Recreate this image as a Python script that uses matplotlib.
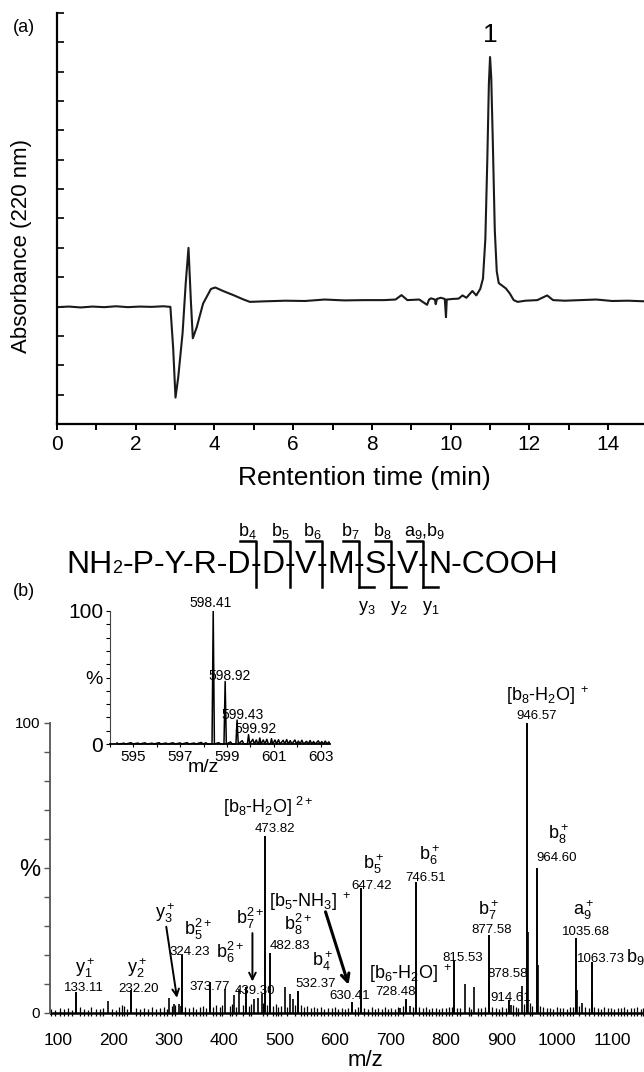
import numpy as np
import matplotlib.pyplot as plt
from matplotlib.lines import Line2D

plt.rcParams["font.family"] = ["Liberation Sans", "DejaVu Sans"]
plt.rcParams["mathtext.fontset"] = "custom"
plt.rcParams["mathtext.rm"] = "Liberation Sans"
plt.rcParams["mathtext.it"] = "Liberation Sans"
plt.rcParams["mathtext.default"] = "regular"

NARROW = ["Liberation Sans Narrow", "Liberation Sans", "DejaVu Sans"]

# ============================================================
# DATA
# ============================================================

# (a) chromatogram
rt_min = [0, 0.3, 0.6, 0.9, 1.2, 1.5, 1.8, 2.1, 2.4, 2.7, 2.88, 2.95, 3.01,
          3.08, 3.19, 3.27, 3.34, 3.40, 3.45, 3.55, 3.71, 3.91, 4.02, 4.22,
          4.48, 4.74, 4.90, 5.3, 5.8, 6.3, 6.8, 7.3, 7.8, 8.3, 8.6, 8.75,
          8.9, 9.2, 9.4, 9.45, 9.5, 9.6, 9.62, 9.65, 9.75, 9.85, 9.88, 9.9,
          10.05, 10.2, 10.3, 10.4, 10.55, 10.65, 10.75, 10.82, 10.88, 10.93,
          10.97, 11.0, 11.03, 11.07, 11.12, 11.17, 11.22, 11.3, 11.4, 11.5,
          11.6, 11.7, 11.9, 12.2, 12.45, 12.6, 12.9, 13.3, 13.7, 14.1, 14.5,
          14.91]
absorbance = [3.98, 4.0, 3.97, 4.0, 3.98, 4.01, 3.98, 4.0, 3.99, 4.01, 3.99,
              2.6, 0.9, 1.6, 3.1, 4.8, 6.0, 4.2, 2.92, 3.3, 4.1, 4.6, 4.65,
              4.53, 4.39, 4.24, 4.16, 4.18, 4.2, 4.19, 4.24, 4.21, 4.22, 4.22,
              4.24, 4.39, 4.22, 4.24, 4.06, 4.24, 4.28, 4.24, 4.08, 4.26, 4.3,
              4.26, 3.64, 4.24, 4.26, 4.27, 4.38, 4.3, 4.53, 4.38, 4.6, 4.95,
              6.3, 9.0, 11.6, 12.5, 11.8, 9.6, 6.6, 5.2, 4.8, 4.72, 4.62, 4.45,
              4.22, 4.16, 4.2, 4.22, 4.38, 4.22, 4.2, 4.22, 4.24, 4.19, 4.2,
              4.18]

# (b) MS/MS spectrum: main fragment peaks (m/z, relative %)
peak_mz = [133.11, 232.20, 324.23, 373.77, 439.30, 473.82, 482.83, 532.37,
           630.41, 647.42, 728.48, 746.51, 815.53, 877.58, 878.58, 914.61,
           946.57, 964.60, 1035.68, 1063.73]
peak_int = [7.3, 7.9, 20.0, 10.8, 8.8, 61.0, 20.6, 7.6, 3.7, 43.0, 4.8, 45.0,
            17.8, 26.8, 11.0, 4.5, 100.0, 50.0, 26.0, 17.5]

# smaller unlabelled peaks
minor_mz = [190, 301, 310, 319, 322, 402, 418, 427.5, 453, 460.6, 468, 509,
            518, 524, 718, 735, 834, 851, 918, 937, 947.57, 965.6, 1036.7,
            1046, 1064.7]
minor_int = [4.3, 5.2, 3.0, 3.2, 2.5, 8.4, 6.2, 8.2, 4.7, 5.3, 6.5, 8.8, 6.7,
             4.7, 1.8, 2.4, 9.9, 9.0, 2.6, 9.3, 28.0, 16.5, 8.0, 3.5, 6.5]

# baseline grass
grass_mz = [88, 95, 103, 110, 118, 125, 140, 147, 155, 160, 168, 175, 182,
            197, 204, 210, 215, 219, 225, 240, 248, 255, 262, 270, 277, 284,
            291, 296, 306, 312, 330, 336, 343, 350, 356, 362, 368, 380, 386,
            392, 396, 410, 414, 422, 434, 444, 449, 470, 478, 488, 493, 498,
            503, 514, 528, 538, 544, 550, 556, 562, 568, 575, 581, 588, 594,
            600, 606, 612, 618, 624, 636, 642, 653, 660, 666, 672, 678, 684,
            690, 696, 702, 708, 714, 722, 740, 752, 758, 764, 770, 776, 782,
            788, 794, 800, 806, 812, 820, 826, 842, 846, 858, 864, 870, 884,
            890, 896, 902, 908, 922, 926, 930, 942, 952, 956, 970, 976, 982,
            988, 994, 1000, 1006, 1012, 1018, 1024, 1030, 1040, 1052, 1058,
            1068, 1074, 1080, 1086, 1092, 1098, 1104, 1110, 1116, 1122, 1128,
            1134, 1140, 1146, 1152, 1156]
grass_int = [1.5, 1.0, 1.8, 1.2, 1.6, 1.1, 2.0, 1.3, 1.0, 2.2, 1.4, 1.2, 1.6,
             1.5, 1.1, 1.9, 2.6, 2.4, 1.3, 1.8, 1.2, 1.7, 1.4, 1.9, 1.2, 1.6,
             2.0, 1.5, 2.5, 2.8, 2.2, 1.7, 1.9, 1.5, 2.0, 2.4, 1.8, 2.0, 2.6,
             1.9, 2.8, 2.5, 3.0, 2.2, 2.7, 2.4, 3.2, 3.5, 2.8, 2.5, 3.0, 2.2,
             2.4, 2.0, 2.8, 2.6, 2.0, 2.4, 1.8, 2.1, 1.6, 2.0, 1.5, 1.8, 1.6,
             2.2, 1.4, 1.7, 1.5, 1.8, 1.5, 2.0, 1.8, 1.5, 2.0, 1.4, 1.7, 1.5,
             1.9, 1.4, 1.8, 1.5, 2.1, 2.5, 2.0, 2.2, 1.6, 1.9, 1.5, 1.7, 1.6,
             1.4, 1.8, 1.6, 1.9, 2.0, 1.8, 1.6, 2.0, 1.5, 1.8, 1.6, 2.0, 2.2,
             1.7, 1.5, 1.9, 1.6, 2.6, 2.0, 1.8, 3.0, 3.5, 2.5, 2.5, 2.0, 1.6,
             1.8, 1.5, 1.9, 1.6, 1.8, 1.5, 1.9, 2.2, 2.5, 2.0, 1.6, 2.2, 1.8,
             1.5, 1.9, 1.6, 1.7, 1.5, 1.8, 1.6, 1.9, 1.5, 1.8, 1.6, 1.9, 1.5,
             1.7]

# inset: precursor isotope cluster
iso_mz = [598.41, 598.92, 599.43, 599.92, 600.40, 600.90]
iso_int = [100.0, 47.0, 18.0, 7.0, 4.5, 4.0]
iso_grass_mz = [594.3, 594.6, 594.9, 595.2, 595.5, 595.8, 596.1, 596.4,
                596.7, 597.0, 597.3, 597.6, 597.9, 598.1, 598.65, 599.15,
                599.65, 600.1, 600.25, 600.55, 600.7, 601.05, 601.2, 601.4,
                601.55, 601.7, 601.9, 602.05, 602.2, 602.4, 602.55, 602.7,
                602.9, 603.05, 603.2, 603.35]
iso_grass_int = [0.8, 0.6, 1.0, 0.7, 0.9, 0.6, 1.0, 0.7, 0.9, 0.8, 1.0, 0.7,
                 1.2, 0.9, 1.0, 1.5, 2.5, 3.5, 3.0, 3.0, 3.5, 3.0, 3.2, 2.8,
                 3.3, 2.5, 3.0, 2.2, 2.8, 2.0, 2.6, 1.8, 2.4, 1.8, 2.2, 1.6]

# peptide sequence and fragment marks
seq_tokens = ["NH", "2", "-P-Y-R-D", "-", "D", "-", "V", "-", "M", "-", "S",
              "-", "V", "-", "N-COOH"]
b_ions = ["b$_4$", "b$_5$", "b$_6$", "b$_7$", "b$_8$", "a$_9$,b$_9$"]
y_ions = [None, None, None, "y$_3$", "y$_2$", "y$_1$"]

# ============================================================
# FIGURE
# ============================================================

W, H = 644, 1072
fig = plt.figure(figsize=(W / 100, H / 100), dpi=100)


def fx(x):
    return x / W


def fy(y):
    return 1 - y / H


def box(left, top, right, bottom):
    return [fx(left), fy(bottom), (right - left) / W, (bottom - top) / H]


# ------------------------------------------------------------
# (a) chromatogram
# ------------------------------------------------------------
ax_a = fig.add_axes(box(57, 13, 644, 424))
ax_a.plot(rt_min, absorbance, color="#1a1a1a", lw=1.5)
ax_a.set_xlim(0, 14.91)
ax_a.set_ylim(0, 14)
for s in ["top", "right"]:
    ax_a.spines[s].set_visible(False)
for s in ["left", "bottom"]:
    ax_a.spines[s].set_linewidth(1.6)
ax_a.set_xticks(range(0, 15, 2))
ax_a.set_xticks(range(1, 15, 2), minor=True)
ax_a.set_yticks(range(0, 15))
ax_a.set_yticklabels([])
ax_a.tick_params(axis="x", which="both", direction="out", length=4, width=1.4,
                 pad=4)
ax_a.tick_params(axis="y", direction="in", length=5, width=1.2)
for lab in ax_a.get_xticklabels():
    lab.set_family(NARROW)
    lab.set_fontsize(15)
ax_a.text(11.0, 13.25, "1", ha="center", va="center", fontsize=19,
          family=NARROW)

fig.text(fx(24), fy(28), "(a)", ha="center", va="center", fontsize=13)
fig.text(fx(22), fy(246), "Absorbance (220 nm)", rotation=90, ha="center",
         va="center", fontsize=16)
fig.text(fx(364), fy(478), "Rentention time (min)", ha="center",
         va="center", fontsize=19)

# ------------------------------------------------------------
# peptide sequence with fragment brackets
# ------------------------------------------------------------
renderer = fig.canvas.get_renderer()
x_cur = 66
cut_x = []
for tok in seq_tokens:
    size = 13 if tok == "2" else 23
    t = fig.text(fx(x_cur), fy(573), tok, ha="left", va="baseline",
                 fontsize=size)
    w = t.get_window_extent(renderer).width
    if tok == "-":
        cut_x.append(x_cur + w / 2)
    x_cur += w

for i, xc in enumerate(cut_x):
    fig.add_artist(Line2D([fx(xc - 16), fx(xc), fx(xc)],
                          [fy(541), fy(541), fy(587)],
                          transform=fig.transFigure, color="k", lw=1.8))
    dx = 2 if i == len(cut_x) - 1 else -9
    fig.text(fx(xc + dx), fy(531), b_ions[i], ha="center", va="center",
             fontsize=13)
    if y_ions[i] is not None:
        fig.add_artist(Line2D([fx(xc), fx(xc + 15)], [fy(587), fy(587)],
                              transform=fig.transFigure, color="k", lw=1.8))
        fig.text(fx(xc + 8), fy(608), y_ions[i], ha="center", va="center",
                 fontsize=13)

fig.text(fx(24), fy(592), "(b)", ha="center", va="center", fontsize=13)

# ------------------------------------------------------------
# (b) MS/MS spectrum
# ------------------------------------------------------------
ax_b = fig.add_axes(box(50, 723, 644, 1013 + 3 * 2.89))
ax_b.set_xlim(85.6, 1157.8)
ax_b.set_ylim(-3, 100)
ax_b.axhline(0, color="k", lw=1.8)
ax_b.vlines(grass_mz, [-1.0] * len(grass_mz), grass_int, color="k", lw=0.9)
ax_b.vlines(minor_mz, 0, minor_int, color="k", lw=1.2)
ax_b.vlines(peak_mz, 0, peak_int, color="k", lw=1.4)

for s in ["top", "right", "bottom"]:
    ax_b.spines[s].set_visible(False)
ax_b.spines["left"].set_color("#555555")
ax_b.spines["left"].set_linewidth(1.3)
ax_b.spines["left"].set_bounds(0, 100)
ax_b.set_yticks(range(0, 101, 10))
ax_b.set_yticklabels(["0", "", "", "", "", "%", "", "", "", "", "100"])
ax_b.tick_params(axis="y", direction="out", length=4, width=1.0,
                 color="#555555", pad=3)
ylabs = ax_b.get_yticklabels()
ylabs[0].set_fontsize(11)
ylabs[5].set_fontsize(17)
ylabs[10].set_fontsize(11)
ax_b.set_xticks(range(100, 1101, 100))
ax_b.tick_params(axis="x", length=0, pad=8)
for lab in ax_b.get_xticklabels():
    lab.set_family(NARROW)
    lab.set_fontsize(12.5)
fig.text(fx(365), fy(1060), "m/z", ha="center", va="center", fontsize=16,
         family=NARROW)

ion_labels = [
    ("y$_1^+$", 149, 15.5), ("y$_2^+$", 243, 15.5), ("y$_3^+$", 293, 34.5),
    ("b$_5^{2+}$", 352, 28.8), ("b$_6^{2+}$", 410, 21.0),
    ("b$_7^{2+}$", 446, 32.5), ("[b$_8$-H$_2$O]$^{\\ 2+}$", 479, 71.0),
    ("b$_8^{2+}$", 534, 30.5), ("b$_4^+$", 578, 17.8),
    ("[b$_5$-NH$_3$]$^{\\ +}$", 555, 38.5), ("b$_5^+$", 670, 51.3),
    ("[b$_6$-H$_2$O]$^{\\ +}$", 737, 13.5), ("b$_6^+$", 771, 54.3),
    ("b$_7^+$", 878, 35.5), ("[b$_8$-H$_2$O]$^{\\ +}$", 984, 109.5),
    ("b$_8^+$", 1003, 61.5), ("a$_9^+$", 1049, 35.5),
]
for txt, m, p in ion_labels:
    ax_b.text(m, p, txt, ha="center", va="center", fontsize=13)
ax_b.text(1126, 19.2, "b$_9$", ha="left", va="center", fontsize=13)

num_labels = [
    ("133.11", 147, 8.6), ("232.20", 246, 8.3), ("324.23", 338, 21.1),
    ("373.77", 373, 9.0), ("439.30", 455, 7.6), ("473.82", 491, 63.5),
    ("482.83", 518, 23.0), ("532.37", 566, 10.1), ("630.41", 626, 6.0),
    ("647.42", 666, 43.8), ("728.48", 709, 7.2), ("746.51", 764, 46.6),
    ("815.53", 831, 18.8), ("877.58", 883, 28.5), ("878.58", 912, 13.4),
    ("914.61", 917, 5.2), ("946.57", 964, 102.5), ("964.60", 1000, 53.5),
    ("1035.68", 1053, 27.9), ("1063.73", 1081, 18.6),
]
for txt, m, p in num_labels:
    ax_b.text(m, p, txt, ha="center", va="center", fontsize=9.5,
              family=NARROW)

arrow = dict(arrowstyle="->", color="k", lw=1.4, mutation_scale=12)
ax_b.annotate("", xy=(315.5, 4.3), xytext=(294.7, 30.7), arrowprops=arrow)
ax_b.annotate("", xy=(451, 9.9), xytext=(451, 28.5), arrowprops=arrow)
ax_b.annotate("", xy=(626, 8.8), xytext=(581.4, 35.8),
              arrowprops=dict(arrowstyle="->", color="k", lw=2.2,
                              mutation_scale=14))

# ------------------------------------------------------------
# inset: precursor isotope cluster
# ------------------------------------------------------------
ax_in = fig.add_axes(box(110, 611, 330, 744 + 2 * 1.33))
ax_in.set_facecolor("none")
half_w = 0.05
prof = sorted(
    [(m - half_w, 0.0) for m in iso_mz]
    + [(m, h) for m, h in zip(iso_mz, iso_int)]
    + [(m + half_w, 0.0) for m in iso_mz]
    + [(m, h) for m, h in zip(iso_grass_mz, iso_grass_int)]
    + [(m + 0.07, 0.0) for m in iso_grass_mz]
)
ax_in.plot([p[0] for p in prof], [p[1] for p in prof], color="k", lw=1.1)
ax_in.set_xlim(594.1, 603.4)
ax_in.set_ylim(-2, 100)
for s in ["top", "right"]:
    ax_in.spines[s].set_visible(False)
ax_in.spines["left"].set_bounds(0, 100)
ax_in.spines["left"].set_color("#444444")
ax_in.spines["bottom"].set_position(("data", 0))
ax_in.spines["bottom"].set_linewidth(1.3)
ax_in.set_yticks(range(0, 101, 10))
ax_in.set_yticklabels(["0", "", "", "", "", "%", "", "", "", "", "100"])
ax_in.tick_params(axis="y", direction="out", length=3, width=0.8, pad=2)
ilabs = ax_in.get_yticklabels()
ilabs[0].set_fontsize(15)
ilabs[5].set_fontsize(14)
ilabs[10].set_fontsize(15)
ax_in.set_xticks([595, 597, 599, 601, 603])
ax_in.set_xticks([594, 596, 598, 600, 602], minor=True)
ax_in.tick_params(axis="x", which="both", direction="out", length=2,
                  width=0.8, pad=2)
for lab in ax_in.get_xticklabels():
    lab.set_family(NARROW)
    lab.set_fontsize(11)
fig.text(fx(203), fy(768), "m/z", ha="center", va="center", fontsize=14,
         family=NARROW)

iso_labels = [("598.41", 598.3, 106.0), ("598.92", 599.1, 51.0),
              ("599.43", 599.67, 21.8), ("599.92", 600.23, 11.0)]
for txt, m, p in iso_labels:
    ax_in.text(m, p, txt, ha="center", va="center", fontsize=10,
               family=NARROW)

fig.savefig("out.png", dpi=100)
